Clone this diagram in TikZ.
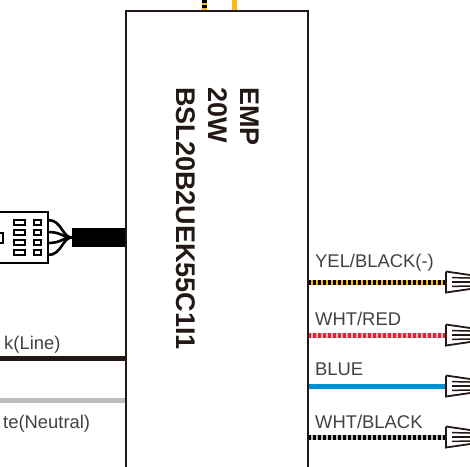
\documentclass[tikz,border=0pt]{standalone}
\usepackage{fontspec}
\setmainfont{Liberation Sans}
\usetikzlibrary{positioning}
\definecolor{inkblack}{HTML}{231815}
\definecolor{wireyellow}{HTML}{FCB813}
\definecolor{wirered}{HTML}{ED1C2E}
\definecolor{wiregray}{HTML}{BCBEC0}
\definecolor{wireblue}{HTML}{0091D5}
\definecolor{labelgray}{HTML}{414143}

\begin{document}
\begin{tikzpicture}[x=1pt,y=-1pt]
        \tikzset{unit/.style={draw=inkblack,line width=2.8pt,fill=white,minimum width=182pt,minimum height=500pt,inner sep=0pt,outer sep=0pt}}
        \tikzset{model/.style={rotate=-90,anchor=base west,font=\fontsize{27}{30}\selectfont\bfseries,text=inkblack,inner sep=0pt}}
        \tikzset{wirelabel/.style={anchor=base west,font=\fontsize{18.4}{20}\selectfont,text=labelgray,inner sep=0pt}}
        \tikzset{wire/.style={line width=5pt}}
        \tikzset{pinhole/.style={draw=black,line width=2pt,fill=white,inner sep=0pt,outer sep=0pt}}
        \tikzset{strand/.style={draw=black,line width=2.6pt}}
        \tikzset{terminal/.pic={
            \draw[draw=inkblack,line width=1.8pt,fill=white] (0,-10.5) -- (24,-7) (0,-10.5) -- (0,10.5) -- (24,7);
            \foreach \off in {-4,0,4} {
                \draw[draw=inkblack,line width=1.5pt] (6,\off*1.1) -- (24,\off);
            }
        }}

        \useasboundingbox (0,0) rectangle (470,466);
        \clip (0,0) rectangle (470,466);

        \node[unit] (emp) at (217,261) {};

        \node[model] (name1) at (240,87) {EMP};
        \node[model] (name2) at (208,87) {20W};
        \node[model] (name3) at (176,87) {BSL20B2UEK55C1I1};

        % top wires
        \coordinate (top1) at (204.5,0);
        \coordinate (top2) at (234,0);
        \draw[wire,draw=wireyellow] (top1) -- (top1 |- emp.north);
        \draw[wire,draw=black,dash pattern=on 3pt off 2pt] (top1) -- (top1 |- emp.north);
        \draw[wire,draw=wireyellow] (top2) -- (top2 |- emp.north);

        % left side
        \coordinate (line) at (0,358.5);
        \coordinate (neutral) at (0,400);
        \draw[wire,draw=inkblack] (line) -- (line -| emp.west);
        \draw[wire,draw=wiregray] (neutral) -- (neutral -| emp.west);
        \node[wirelabel] (linetxt) at (4,349) {k(Line)};
        \node[wirelabel] (neutraltxt) at (3,428) {te(Neutral)};

        \node[fill=black,minimum width=54pt,minimum height=19pt,inner sep=0pt,outer sep=0pt] (cable) at (99,237.5) {};
        \foreach \ypos in {220,232,243,255} {
            \draw[strand] (48,\ypos) .. controls (62,\ypos) and (62,237.5) .. (cable.west);
        }
        \node[draw=black,line width=2.4pt,fill=white,minimum width=60pt,minimum height=51pt,inner sep=0pt,outer sep=0pt] (plug) at (18,237.5) {};
        \foreach \ypos in {222.5,232.5,242.5,252.5} {
            \node[pinhole,minimum width=11pt,minimum height=5pt] (pa\ypos) at (19,\ypos) {};
            \node[pinhole,minimum width=7pt,minimum height=5pt] (pb\ypos) at (37,\ypos) {};
        }
        \node[pinhole,minimum width=6pt,minimum height=10pt] (pc) at (0,238) {};

        % right side
        \foreach \name/\ypos/\txt/\ytxt/\base/\over in {
            yel/282/{YEL/BLACK(-)}/267/wireyellow/black,
            red/335/{WHT/RED}/325/wiregray/wirered,
            blu/386/{BLUE}/375/wireblue/wireblue,
            blk/437/{WHT/BLACK}/428/wiregray/black} {
            \coordinate (\name) at (446,\ypos);
            \draw[wire,draw=\base] (\name -| emp.east) -- (\name);
            \draw[wire,draw=\over,dash pattern=on 3pt off 2pt] (\name -| emp.east) -- (\name);
            \node[wirelabel] (\name txt) at (315,\ytxt) {\txt};
            \pic at (\name) {terminal};
        }
        \draw[draw=inkblack,line width=2.8pt] (emp.north west) rectangle (emp.south east);
\end{tikzpicture}
\end{document}
